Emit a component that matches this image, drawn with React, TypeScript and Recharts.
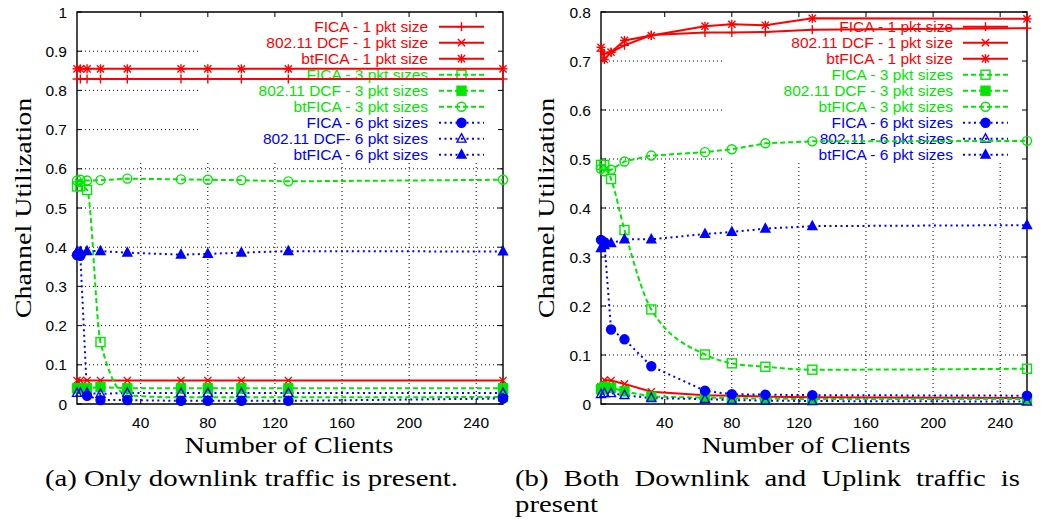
import React from 'react';
import { LineChart, Line, XAxis, YAxis, ReferenceLine, ReferenceArea } from 'recharts';

// x positions shared by every series
const clients = [2, 4, 8, 16, 32, 64, 80, 100, 128, 256];
const clientTicks = [40, 80, 120, 160, 200, 240];

// (a) downlink traffic only
const downFicaOne = [0.829, 0.829, 0.829, 0.829, 0.829, 0.829, 0.829, 0.829, 0.829, 0.829];
const downDcfOne = [0.06, 0.06, 0.06, 0.06, 0.06, 0.06, 0.06, 0.06, 0.06, 0.06];
const downBtOne = [0.855, 0.855, 0.855, 0.855, 0.855, 0.855, 0.855, 0.855, 0.855, 0.855];
const downFicaThree = [0.555, 0.556, 0.546, 0.158, 0.022, 0.017, 0.017, 0.017, 0.017, 0.018];
const downDcfThree = [0.04, 0.04, 0.04, 0.043, 0.04, 0.04, 0.04, 0.04, 0.04, 0.04];
const downBtThree = [0.57, 0.572, 0.57, 0.571, 0.575, 0.573, 0.572, 0.571, 0.568, 0.572];
const downFicaSix = [0.38, 0.378, 0.021, 0.01, 0.01, 0.008, 0.008, 0.008, 0.008, 0.014];
const downDcfSix = [0.028, 0.028, 0.028, 0.026, 0.028, 0.028, 0.028, 0.028, 0.028, 0.028];
const downBtSix = [0.388, 0.388, 0.39, 0.39, 0.386, 0.381, 0.383, 0.386, 0.39, 0.389];

// (b) downlink and uplink traffic
const bothFicaOne = [0.72, 0.715, 0.718, 0.732, 0.753, 0.758, 0.758, 0.759, 0.764, 0.767];
const bothDcfOne = [0.035, 0.049, 0.048, 0.041, 0.025, 0.018, 0.017, 0.015, 0.014, 0.012];
const bothBtOne = [0.728, 0.703, 0.718, 0.742, 0.752, 0.771, 0.775, 0.773, 0.787, 0.786];
const bothFicaThree = [0.488, 0.488, 0.459, 0.355, 0.193, 0.101, 0.083, 0.076, 0.07, 0.072];
const bothDcfThree = [0.03, 0.035, 0.033, 0.026, 0.015, 0.013, 0.012, 0.011, 0.01, 0.01];
const bothBtThree = [0.48, 0.475, 0.478, 0.495, 0.507, 0.514, 0.52, 0.532, 0.536, 0.537];
const bothFicaSix = [0.335, 0.33, 0.152, 0.132, 0.077, 0.027, 0.02, 0.019, 0.018, 0.017];
const bothDcfSix = [0.02, 0.022, 0.022, 0.018, 0.012, 0.01, 0.008, 0.007, 0.006, 0.005];
const bothBtSix = [0.318, 0.324, 0.328, 0.336, 0.336, 0.347, 0.351, 0.358, 0.363, 0.365];

const downTicks = [0, 0.1, 0.2, 0.3, 0.4, 0.5, 0.6, 0.7, 0.8, 0.9, 1];
const bothTicks = [0, 0.1, 0.2, 0.3, 0.4, 0.5, 0.6, 0.7, 0.8];

const RED = '#ff0000';
const GREEN = '#00e600';
const BLUE = '#0000ff';
const DASHED = '5 3';
const DOTTED = '2 3.5';
const GRID = '1 3';

const X_MIN = 2;
const X_MAX = 256;
const PLOT_W = 426;
const PLOT_H = 392;

type Shape = 'plus' | 'cross' | 'star' | 'square' | 'squareFill' | 'circle' | 'circleFill' | 'triangle' | 'triangleFill';

interface SeriesDef {
  key: string;
  label: string;
  color: string;
  dash?: string;
  shape: Shape;
  curve: 'linear' | 'monotone';
  values: number[];
}

const downSeries: SeriesDef[] = [
  { key: 'ficaOne', label: 'FICA - 1 pkt size', color: RED, shape: 'plus', curve: 'linear', values: downFicaOne },
  { key: 'dcfOne', label: '802.11 DCF - 1 pkt size', color: RED, shape: 'cross', curve: 'linear', values: downDcfOne },
  { key: 'btOne', label: 'btFICA - 1 pkt size', color: RED, shape: 'star', curve: 'linear', values: downBtOne },
  { key: 'ficaThree', label: 'FICA - 3 pkt sizes', color: GREEN, dash: DASHED, shape: 'square', curve: 'monotone', values: downFicaThree },
  { key: 'dcfThree', label: '802.11 DCF - 3 pkt sizes', color: GREEN, dash: DASHED, shape: 'squareFill', curve: 'linear', values: downDcfThree },
  { key: 'btThree', label: 'btFICA - 3 pkt sizes', color: GREEN, dash: DASHED, shape: 'circle', curve: 'linear', values: downBtThree },
  { key: 'ficaSix', label: 'FICA - 6 pkt sizes', color: BLUE, dash: DOTTED, shape: 'circleFill', curve: 'linear', values: downFicaSix },
  { key: 'dcfSix', label: '802.11 DCF- 6 pkt sizes', color: BLUE, dash: DOTTED, shape: 'triangle', curve: 'linear', values: downDcfSix },
  { key: 'btSix', label: 'btFICA - 6 pkt sizes', color: BLUE, dash: DOTTED, shape: 'triangleFill', curve: 'linear', values: downBtSix },
];

const bothSeries: SeriesDef[] = [
  { key: 'ficaOne', label: 'FICA - 1 pkt size', color: RED, shape: 'plus', curve: 'linear', values: bothFicaOne },
  { key: 'dcfOne', label: '802.11 DCF - 1 pkt size', color: RED, shape: 'cross', curve: 'linear', values: bothDcfOne },
  { key: 'btOne', label: 'btFICA - 1 pkt size', color: RED, shape: 'star', curve: 'linear', values: bothBtOne },
  { key: 'ficaThree', label: 'FICA - 3 pkt sizes', color: GREEN, dash: DASHED, shape: 'square', curve: 'monotone', values: bothFicaThree },
  { key: 'dcfThree', label: '802.11 DCF - 3 pkt sizes', color: GREEN, dash: DASHED, shape: 'squareFill', curve: 'linear', values: bothDcfThree },
  { key: 'btThree', label: 'btFICA - 3 pkt sizes', color: GREEN, dash: DASHED, shape: 'circle', curve: 'linear', values: bothBtThree },
  { key: 'ficaSix', label: 'FICA - 6 pkt sizes', color: BLUE, dash: DOTTED, shape: 'circleFill', curve: 'linear', values: bothFicaSix },
  { key: 'dcfSix', label: '802.11 - 6 pkt sizes', color: BLUE, dash: DOTTED, shape: 'triangle', curve: 'linear', values: bothDcfSix },
  { key: 'btSix', label: 'btFICA - 6 pkt sizes', color: BLUE, dash: DOTTED, shape: 'triangleFill', curve: 'linear', values: bothBtSix },
];

const SANS = '"Liberation Sans", Arial, sans-serif';
const SERIF = '"Liberation Serif", "Times New Roman", serif';

function Marker({ x, y, shape, color }: { x: number; y: number; shape: Shape; color: string }) {
  const s = 4.5;
  const d = 3.6;
  const sw = 1.4;
  const tri = `${x},${y - s * 1.1} ${x - s},${y + s * 0.75} ${x + s},${y + s * 0.75}`;
  switch (shape) {
    case 'plus':
      return (
        <g stroke={color} strokeWidth={sw}>
          <line x1={x - s} y1={y} x2={x + s} y2={y} />
          <line x1={x} y1={y - s} x2={x} y2={y + s} />
        </g>
      );
    case 'cross':
      return (
        <g stroke={color} strokeWidth={sw}>
          <line x1={x - d} y1={y - d} x2={x + d} y2={y + d} />
          <line x1={x - d} y1={y + d} x2={x + d} y2={y - d} />
        </g>
      );
    case 'star':
      return (
        <g stroke={color} strokeWidth={sw}>
          <line x1={x - s} y1={y} x2={x + s} y2={y} />
          <line x1={x} y1={y - s} x2={x} y2={y + s} />
          <line x1={x - d} y1={y - d} x2={x + d} y2={y + d} />
          <line x1={x - d} y1={y + d} x2={x + d} y2={y - d} />
        </g>
      );
    case 'square':
      return <rect x={x - s} y={y - s} width={s * 2} height={s * 2} fill="none" stroke={color} strokeWidth={sw} />;
    case 'squareFill':
      return <rect x={x - s} y={y - s} width={s * 2} height={s * 2} fill={color} stroke={color} strokeWidth={sw} />;
    case 'circle':
      return <circle cx={x} cy={y} r={s} fill="none" stroke={color} strokeWidth={sw} />;
    case 'circleFill':
      return <circle cx={x} cy={y} r={s} fill={color} stroke={color} strokeWidth={sw} />;
    case 'triangle':
      return <polygon points={tri} fill="none" stroke={color} strokeWidth={sw} />;
    default:
      return <polygon points={tri} fill={color} stroke={color} strokeWidth={sw} />;
  }
}

interface PanelProps {
  series: SeriesDef[];
  yMax: number;
  yTicks: number[];
  width: number;
  marginLeft: number;
  keyLeft: number; // left edge of the key block, in plot pixels
  textRight: number;
  sample: [number, number];
}

function Panel({ series, yMax, yTicks, width, marginLeft, keyLeft, textRight, sample }: PanelProps) {
  const rows = clients.map((c, i) => {
    const row: Record<string, number> = { clients: c };
    series.forEach((s) => {
      row[s.key] = s.values[i];
    });
    return row;
  });

  // the key covers the grid between y = 16px and y = 163px of the chart
  const xPerPx = (X_MAX - X_MIN) / PLOT_W;
  const yPerPx = yMax / PLOT_H;
  const keyBottom = (PLOT_H + 12 - 163) * yPerPx;
  const keyTop = (PLOT_H + 12 - 16) * yPerPx;
  const keyX = X_MIN + keyLeft * xPerPx;
  const tickX = 5 * xPerPx;
  const tickY = 5 * yPerPx;

  return (
    <LineChart width={width} height={470} data={rows} margin={{ top: 12, right: 17, bottom: 36, left: marginLeft }}>
      {/* dotted grid, interrupted by the key block */}
      {yTicks.slice(1, -1).map((t) => (
        <ReferenceLine
          key={`h${t}`}
          segment={[{ x: X_MIN, y: t }, { x: t > keyBottom && t < keyTop ? keyX : X_MAX, y: t }]}
          stroke="#000"
          strokeDasharray={GRID}
        />
      ))}
      {clientTicks.map((t) => (
        <ReferenceLine key={`v${t}`} segment={[{ x: t, y: 0 }, { x: t, y: keyBottom }]} stroke="#000" strokeDasharray={GRID} />
      ))}
      {/* inward tick marks on all four sides */}
      {clientTicks.map((t) => (
        <ReferenceLine key={`tb${t}`} segment={[{ x: t, y: 0 }, { x: t, y: tickY }]} stroke="#000" />
      ))}
      {clientTicks.map((t) => (
        <ReferenceLine key={`tt${t}`} segment={[{ x: t, y: yMax - tickY }, { x: t, y: yMax }]} stroke="#000" />
      ))}
      {yTicks.map((t) => (
        <ReferenceLine key={`tl${t}`} segment={[{ x: X_MIN, y: t }, { x: X_MIN + tickX, y: t }]} stroke="#000" />
      ))}
      {yTicks.map((t) => (
        <ReferenceLine key={`tr${t}`} segment={[{ x: X_MAX - tickX, y: t }, { x: X_MAX, y: t }]} stroke="#000" />
      ))}
      <XAxis
        dataKey="clients"
        type="number"
        domain={[X_MIN, X_MAX]}
        ticks={clientTicks}
        tickLine={false}
        axisLine={false}
        tickSize={0}
        tickMargin={13}
        height={30}
        tick={{ fontFamily: SANS, fontSize: 15.5, fill: '#000' }}
      />
      <YAxis
        type="number"
        domain={[0, yMax]}
        ticks={yTicks}
        tickLine={false}
        axisLine={false}
        tickSize={0}
        tickMargin={10}
        width={60}
        tickFormatter={(v: number) => String(Math.round(v * 10) / 10)}
        tick={{ fontFamily: SANS, fontSize: 15.5, fill: '#000' }}
      />
      {/* key: labels and line samples */}
      <g>
        {series.map((s, i) => {
          const y = 26.7 + i * 16;
          return (
            <g key={s.key}>
              <text x={textRight} y={y} dy="0.35em" textAnchor="end" fill={s.color} fontFamily={SANS} fontSize={15.5}>
                {s.label}
              </text>
              <line x1={sample[0]} y1={y} x2={sample[1]} y2={y} stroke={s.color} strokeWidth={2} strokeDasharray={s.dash} />
              <Marker x={(sample[0] + sample[1]) / 2} y={y} shape={s.shape} color={s.color} />
            </g>
          );
        })}
      </g>
      {series.map((s) => (
        <Line
          key={s.key}
          dataKey={s.key}
          type={s.curve}
          stroke={s.color}
          strokeWidth={2}
          strokeDasharray={s.dash}
          isAnimationActive={false}
          dot={(p: any) => <Marker key={`${s.key}-${p.index}`} x={p.cx} y={p.cy} shape={s.shape} color={s.color} />}
          activeDot={false}
        />
      ))}
      <ReferenceArea x1={X_MIN} x2={X_MAX} y1={0} y2={yMax} fill="none" stroke="#000" strokeWidth={1.4} ifOverflow="visible" />
    </LineChart>
  );
}

const axisTitle: React.CSSProperties = {
  position: 'absolute',
  fontFamily: SERIF,
  fontSize: 23,
  lineHeight: '32px',
  height: 32,
  width: 300,
  textAlign: 'center',
  color: '#000',
  whiteSpace: 'nowrap',
};

const caption: React.CSSProperties = {
  position: 'absolute',
  fontFamily: SERIF,
  fontSize: 23,
  lineHeight: '26px',
  color: '#000',
  whiteSpace: 'nowrap',
  transformOrigin: '0 0',
  transform: 'scaleX(1.25)',
};

export default function App() {
  return (
    <div style={{ position: 'absolute', left: 0, top: 0, width: 1044, height: 529, background: '#fff', overflow: 'hidden' }}>
      <div style={{ position: 'absolute', left: 0, top: 0 }}>
        <Panel
          series={downSeries}
          yMax={1}
          yTicks={downTicks}
          width={520}
          marginLeft={17}
          keyLeft={123}
          textRight={428}
          sample={[439, 484]}
        />
      </div>
      <div style={{ position: 'absolute', left: 520, top: 0 }}>
        <Panel
          series={bothSeries}
          yMax={0.8}
          yTicks={bothTicks}
          width={524}
          marginLeft={21}
          keyLeft={122}
          textRight={433}
          sample={[443, 488]}
        />
      </div>

      <div style={{ ...axisTitle, left: 24.4 - 150, top: 208 - 16, transform: 'rotate(-90deg) scaleX(1.22)' }}>Channel Utilization</div>
      <div style={{ ...axisTitle, left: 547.4 - 150, top: 208 - 16, transform: 'rotate(-90deg) scaleX(1.22)' }}>Channel Utilization</div>
      <div style={{ ...axisTitle, left: 289 - 150, top: 430.4, transform: 'scaleX(1.22)' }}>Number of Clients</div>
      <div style={{ ...axisTitle, left: 806 - 150, top: 430.4, transform: 'scaleX(1.22)' }}>Number of Clients</div>

      <div style={{ ...caption, left: 45, top: 466 }}>(a) Only downlink traffic is present.</div>
      <div style={{ ...caption, left: 515, top: 466, width: 404 }}>
        <div style={{ textAlign: 'justify', textAlignLast: 'justify' }}>(b) Both Downlink and Uplink traffic is</div>
        <div>present</div>
      </div>
    </div>
  );
}
